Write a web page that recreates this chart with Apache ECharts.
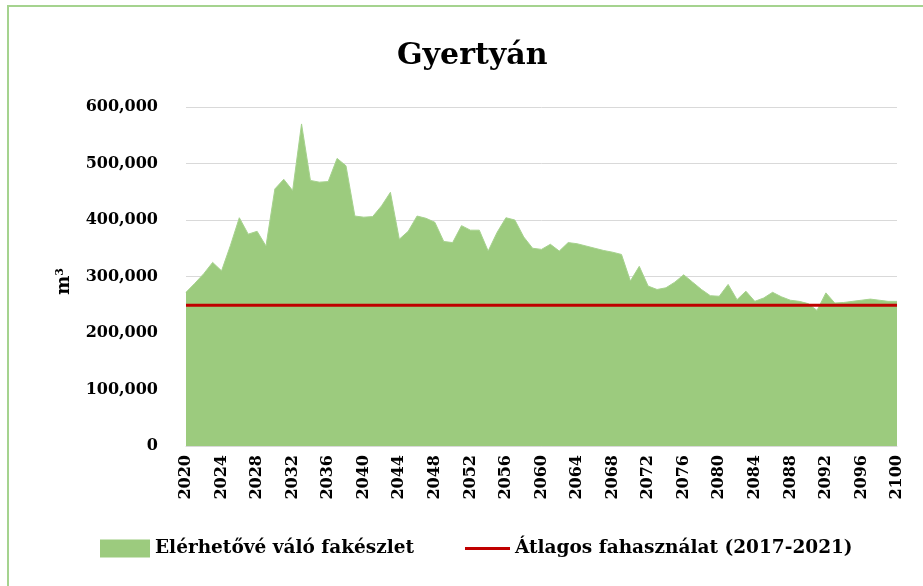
<!DOCTYPE html>
<html>
<head>
<meta charset="utf-8">
<script src="https://cdn.jsdelivr.net/npm/echarts@6/dist/echarts.min.js"></script>
<style>
  html, body {margin: 0; padding: 0; background: #fff;}
  #chart {width: 923px; height: 586px;}
</style>
</head>
<body>
<div id="chart"></div>
<script>
// years 2020..2100
const years = Array.from({length: 81}, (_, i) => String(2020 + i))

// Elérhetővé váló fakészlet, m3 (thousands)
const availableK = [
  272, 288, 305, 325, 310, 355, 404, 375, 380, 354,
  455, 472, 452, 570, 470, 467, 468, 509, 496, 407,
  405, 406, 425, 449, 366, 380, 407, 403, 396, 362,
  360, 390, 382, 382, 345, 378, 404, 400, 370, 350,
  348, 357, 345, 360, 358, 354, 350, 346, 343, 339,
  292, 318, 283, 277, 280, 290, 303, 290, 277, 266,
  265, 286, 259, 274, 256, 262, 272, 264, 258, 256,
  252, 240, 271, 253, 254, 256, 258, 260, 258, 256,
  256
]
const available = availableK.map(v => v * 1000)

// Átlagos fahasználat (2017-2021)
const avgUse = 249000

const yTicks = [0, 100000, 200000, 300000, 400000, 500000, 600000]

const serif = 'DejaVu Serif'
const AREA = 'Elérhetővé váló fakészlet'
const AVG = 'Átlagos fahasználat (2017-2021)'
const legendText = {fontFamily: serif, fontWeight: 'bold', fontSize: 18.5, color: '#000'}

const chart = echarts.init(document.getElementById('chart'))

chart.setOption({
  backgroundColor: '#fff',
  animation: false,
  title: {
    text: 'Gyertyán',
    left: 392,
    top: 36,
    textStyle: {fontFamily: serif, fontWeight: 'bold', fontSize: 30, color: '#000'}
  },
  graphic: [{
    type: 'rect',
    shape: {x: 8, y: 6, width: 940, height: 600},
    style: {fill: 'none', stroke: '#a5d38f', lineWidth: 2}
  }],
  legend: [
    {
      left: 95, top: 534,
      itemWidth: 50, itemHeight: 18,
      icon: 'rect',
      textStyle: legendText,
      data: [AREA]
    },
    {
      left: 460, top: 534,
      itemWidth: 45, itemHeight: 3,
      icon: 'rect',
      textStyle: legendText,
      data: [AVG]
    }
  ],
  grid: {left: 186, right: 26, top: 107, bottom: 140},
  xAxis: {
    type: 'category',
    data: years,
    boundaryGap: false,
    axisLine: {lineStyle: {color: '#d9d9d9'}},
    axisTick: {show: false},
    axisLabel: {
      interval: 3,
      rotate: 90,
      margin: 9,
      fontFamily: serif,
      fontWeight: 'bold',
      fontSize: 16,
      color: '#000'
    }
  },
  yAxis: {
    type: 'value',
    min: yTicks[0],
    max: yTicks[yTicks.length - 1],
    interval: 100000,
    name: 'm{s|3}',
    nameLocation: 'middle',
    nameRotate: 90,
    nameGap: 112,
    nameTextStyle: {
      fontFamily: serif, fontWeight: 'bold', fontSize: 18, color: '#000', padding: [0, 10, 0, 0],
      rich: {s: {fontFamily: serif, fontWeight: 'bold', fontSize: 11, color: '#000', verticalAlign: 'top', padding: [0, 0, 8, 0]}}
    },
    axisLine: {show: false},
    axisTick: {show: false},
    splitLine: {lineStyle: {color: '#d9d9d9'}},
    axisLabel: {
      margin: 28,
      fontFamily: serif,
      fontWeight: 'bold',
      fontSize: 16,
      color: '#000',
      formatter: v => v.toLocaleString('en-US')
    }
  },
  series: [
    {
      name: AREA,
      type: 'line',
      data: available,
      symbol: 'none',
      lineStyle: {color: '#a6d28e', width: 1},
      itemStyle: {color: '#9ccb7e'},
      areaStyle: {color: '#9ccb7e', opacity: 1}
    },
    {
      name: AVG,
      type: 'line',
      data: [[years[0], avgUse], [years[years.length - 1], avgUse]],
      symbol: 'none',
      z: 3,
      lineStyle: {color: '#c00000', width: 3},
      itemStyle: {color: '#c00000'}
    }
  ]
})
</script>
</body>
</html>
